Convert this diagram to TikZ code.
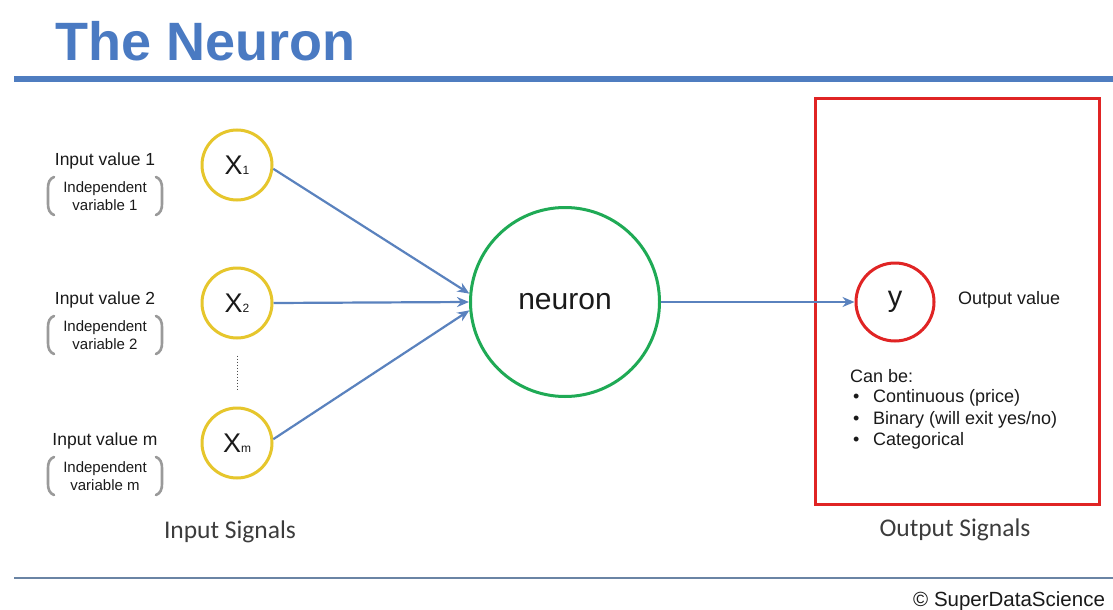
\documentclass[tikz,border=0pt]{standalone}
\usepackage{fontspec}
\setmainfont{Liberation Sans}
\newfontfamily\calib{Carlito}
\usetikzlibrary{arrows.meta}
\definecolor{titleblue}{HTML}{4A7AC2}
\definecolor{ruleblue}{HTML}{4F7DC0}
\definecolor{botrule}{HTML}{6A84A4}
\definecolor{arrblue}{HTML}{5A82BE}
\definecolor{ycirc}{HTML}{E6C62C}
\definecolor{gcirc}{HTML}{1FAA55}
\definecolor{rcirc}{HTML}{E02424}
\definecolor{brk}{HTML}{9A9A9A}
\definecolor{txt}{HTML}{1A1A1A}
\tikzset{
  titletext/.style={font=\fontsize{54}{54}\selectfont\bfseries, text=titleblue, inner sep=0pt},
  incircle/.style={circle, draw=ycirc, line width=3pt, fill=white, minimum size=70pt, inner sep=0pt, text=txt},
  neuroncircle/.style={circle, draw=gcirc, line width=3pt, fill=white, minimum size=189pt, inner sep=0pt, font=\fontsize{30}{30}\selectfont, text=txt},
  outcircle/.style={circle, draw=rcirc, line width=3pt, fill=white, minimum size=78pt, inner sep=0pt, font=\fontsize{29}{29}\selectfont, text=txt},
  outbox/.style={draw=rcirc, line width=3pt, minimum width=284pt, minimum height=406pt, inner sep=0pt},
  arr/.style={draw=arrblue, line width=2.2pt, -{Stealth[length=12pt,width=10pt]}},
  lbl/.style={font=\fontsize{17.5}{17.5}\selectfont, text=txt, inner sep=0pt},
  sublbl/.style={font=\fontsize{15}{18}\selectfont, text=txt, align=center, inner sep=0pt},
  bracket/.style={draw=brk, line width=2.6pt, line cap=round},
  sig/.style={font=\calib\fontsize{25.5}{25.5}\selectfont, text=txt!85, inner sep=0pt},
  outtxt/.style={font=\fontsize{18}{21.5}\selectfont, text=txt, inner sep=0pt, align=left},
  dotline/.style={draw=black!70, line width=1pt, dotted},
}
\newcommand{\xlab}[1]{{\fontsize{27}{27}\selectfont X\fontsize{12}{12}\selectfont #1}}
\begin{document}
\begin{tikzpicture}[x=1pt,y=-1pt]
\useasboundingbox[fill=white] (0,0) rectangle (1113,610);
% title
\node[titletext, anchor=base west] (title) at (55,61) {The Neuron};
\draw[draw=ruleblue, line width=6pt] (14,79) -- (1113,79);
\draw[draw=botrule, line width=2pt] (14,578) -- (1113,578);
\node[font=\fontsize{20.5}{20.5}\selectfont, text=txt, anchor=base west, inner sep=0pt] (copy) at (913,606) {© SuperDataScience};

% output box
\node[outbox] (box) at (957.5,301) {};

% input circles
\node[incircle] (x1) at (237,165) {\xlab{1}};
\node[incircle] (x2) at (237,303) {\xlab{2}};
\node[incircle] (xm) at (237,443) {\xlab{m}};
\node[neuroncircle] (neuron) at (565,302) {neuron};
\node[outcircle] (y) at (895,302) {y};

% connectors
\draw[arr] (x1.-6) -- (neuron.175);
\draw[arr] (x2.east) -- (neuron.west);
\draw[arr] (xm.6) -- (neuron.185);
\draw[arr] (neuron.east) -- (y.west);
\draw[dotline, shorten <=16pt, shorten >=16pt] (x2) -- (xm);

% input labels
\foreach \i/\yy/\t in {1/161/1, 2/300/2, m/441/m}{
  \node[lbl] (in\i) at (105,\yy) {Input value \t};
  \node[sublbl] (sub\i) at (105,\yy+35) {Independent\\variable \t};
  \draw[bracket] ([shift={(-51,-19)}]sub\i.center) to[out=200,in=90] ([shift={(-57,-8)}]sub\i.center)
        -- ([shift={(-57,8)}]sub\i.center) to[out=-90,in=160] ([shift={(-51,19)}]sub\i.center);
  \draw[bracket] ([shift={(51,-19)}]sub\i.center) to[out=-20,in=90] ([shift={(57,-8)}]sub\i.center)
        -- ([shift={(57,8)}]sub\i.center) to[out=-90,in=20] ([shift={(51,19)}]sub\i.center);
}

% output texts
\node[outtxt, anchor=west] (outval) at (958,300) {Output value};
\node[outtxt, anchor=north west] (canbe) at (850,369) {Can be:\\[-1pt]
\makebox[23pt][l]{\hspace{3pt}•}Continuous (price)\\
\makebox[23pt][l]{\hspace{3pt}•}Binary (will exit yes/no)\\
\makebox[23pt][l]{\hspace{3pt}•}Categorical};

% signals
\node[sig] (insig) at (230,532) {Input Signals};
\node[sig] (outsig) at (955,530) {Output Signals};
\end{tikzpicture}
\end{document}
